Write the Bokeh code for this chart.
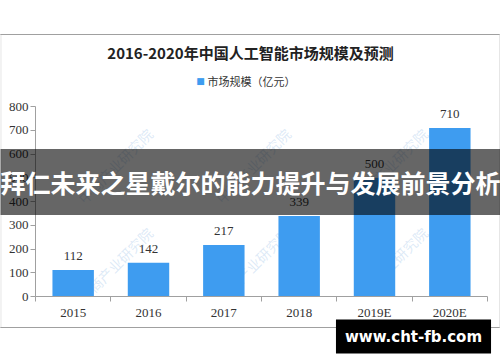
from bokeh.plotting import figure
from bokeh.models import (ColumnDataSource, FixedTicker, Label, LabelSet,
                          Range1d, CustomJSTickFormatter)
from bokeh.embed import file_html
from bokeh.resources import INLINE

# ---- data ----
categories = ["2015", "2016", "2017", "2018", "2019E", "2020E"]
values = [112, 142, 217, 339, 500, 710]
y_ticks = [0, 100, 200, 300, 400, 500, 600, 700, 800]
title_text = "2016-2020年中国人工智能市场规模及预测"
legend_text = "市场规模（亿元）"
banner_text = "拜仁未来之星戴尔的能力提升与发展前景分析"
site_text = "www.cht-fb.com"
watermark_text = "中商产业研究院"

# ---- layout (pixels) ----
W, H = 500, 362
FL, FR, FT, FB = 35, 487, 106, 296   # frame edges
N = len(categories)
YMAX = 800
BAR = "#3e9cf0"
GRAY = "#a0a0a0"

def dx(px):
    return (px - FL) / ((FR - FL) / N)

def dy(py):
    return (FB - py) / ((FB - FT) / YMAX)

xs = [i + 0.5 for i in range(N)]
src = ColumnDataSource(dict(x=xs, top=values, label=[str(v) for v in values]))

p = figure(width=W, height=H, output_backend="svg", toolbar_location=None,
           title=None,
           x_range=Range1d(0, N), y_range=Range1d(0, YMAX),
           min_border_left=FL, min_border_right=W - FR,
           min_border_top=FT, min_border_bottom=H - FB,
           background_fill_color="white", border_fill_color="white",
           outline_line_color=None)
p.grid.visible = False

# faint watermarks inside the plot area
for ly in [107, 208, 307]:
    for lx in [-68, 70, 208, 345, 482]:
        p.add_layout(Label(x=dx(lx + 10), y=dy(ly - 8), text=watermark_text,
                           angle=45, angle_units="deg",
                           text_font="Noto Sans CJK SC", text_font_size="14px",
                           text_color="#9cc0e8", text_alpha=0.35,
                           text_baseline="middle", text_align="left",
                           level="underlay"))

p.vbar(x="x", top="top", width=0.55, bottom=0, source=src,
       fill_color=BAR, line_color=None)

p.add_layout(LabelSet(x="x", y="top", text="label", source=src,
                      y_offset=14, text_align="center", text_baseline="middle",
                      text_font="Liberation Serif", text_font_size="13px",
                      text_color="#333333"))

# axes
xa = p.xaxis[0]
xa.ticker = FixedTicker(ticks=xs, minor_ticks=list(range(N + 1)))
xa.formatter = CustomJSTickFormatter(args=dict(labels=categories),
                                     code="return labels[Math.round(tick - 0.5)] || ''")
xa.major_tick_in = 0
xa.major_tick_out = 0
xa.minor_tick_in = 0
xa.minor_tick_out = 5
xa.minor_tick_line_color = GRAY
xa.axis_line_color = GRAY
xa.major_label_text_font = "Liberation Serif"
xa.major_label_text_font_size = "13px"
xa.major_label_text_color = "#333333"
xa.major_label_standoff = 3

ya = p.yaxis[0]
ya.ticker = FixedTicker(ticks=y_ticks, minor_ticks=[])
ya.major_tick_in = 0
ya.major_tick_out = 5
ya.major_tick_line_color = GRAY
ya.minor_tick_out = 0
ya.minor_tick_in = 0
ya.axis_line_color = GRAY
ya.major_label_text_font = "Liberation Serif"
ya.major_label_text_font_size = "13px"
ya.major_label_text_color = "#333333"
ya.major_label_standoff = 2


def box_label(cx, cy, w, h, color, alpha=1.0, level="annotation"):
    """Tiny text in the fill colour with a padded background -> a filled rectangle."""
    w, h = int(w), int(h)
    return Label(x=dx(cx), y=dy(cy), text="|", text_font_size="1px",
                 text_color=color, text_alpha=alpha,
                 text_align="center", text_baseline="middle",
                 padding=dict(left=w // 2, right=w - w // 2, top=h // 2, bottom=h - h // 2),
                 background_fill_color=color, background_fill_alpha=alpha,
                 level=level)

# chart border (four thin lines)
p.add_layout(box_label(249.5, 34, 499, 0, GRAY), "below")
p.add_layout(box_label(249.5, 327, 499, 0, GRAY), "below")
p.add_layout(box_label(0.5, 180.5, 0, 293, GRAY), "left")
p.add_layout(box_label(499, 180.5, 0, 293, GRAY), "right")

# title
p.add_layout(Label(x=dx(250), y=dy(52), text=title_text, text_align="center",
                   text_baseline="middle", text_font="Noto Sans CJK SC",
                   text_font_style="bold", text_font_size="15px",
                   text_color="#222222"), "above")
# legend
p.add_layout(Label(x=dx(200), y=dy(80), text="■", text_align="center",
                   text_baseline="middle", text_font="DejaVu Sans",
                   text_font_size="9px", text_color=BAR), "right")
p.add_layout(Label(x=dx(207), y=dy(80), text=legend_text, text_align="left",
                   text_baseline="middle", text_font="Noto Sans CJK SC",
                   text_font_size="11px", text_color="#333333"), "above")

# banner overlay
p.add_layout(Label(x=dx(250), y=dy(181.5), text=banner_text, text_align="center",
                   text_baseline="middle", text_font="Noto Sans CJK SC",
                   text_font_style="bold", text_font_size="25px", text_color="white",
                   background_fill_color="black", background_fill_alpha=0.6,
                   padding=dict(left=0, right=0, top=15, bottom=15),
                   level="overlay"), "above")

# site box
p.add_layout(Label(x=dx(413), y=dy(336), text=site_text, text_align="center",
                   text_baseline="middle", text_font="DejaVu Sans",
                   text_font_style="bold", text_font_size="15px", text_color="white",
                   background_fill_color="black", background_fill_alpha=1,
                   padding=dict(left=9, right=9, top=8, bottom=8),
                   level="overlay"), "below")

open("out.html", "w").write(file_html(p, INLINE))
